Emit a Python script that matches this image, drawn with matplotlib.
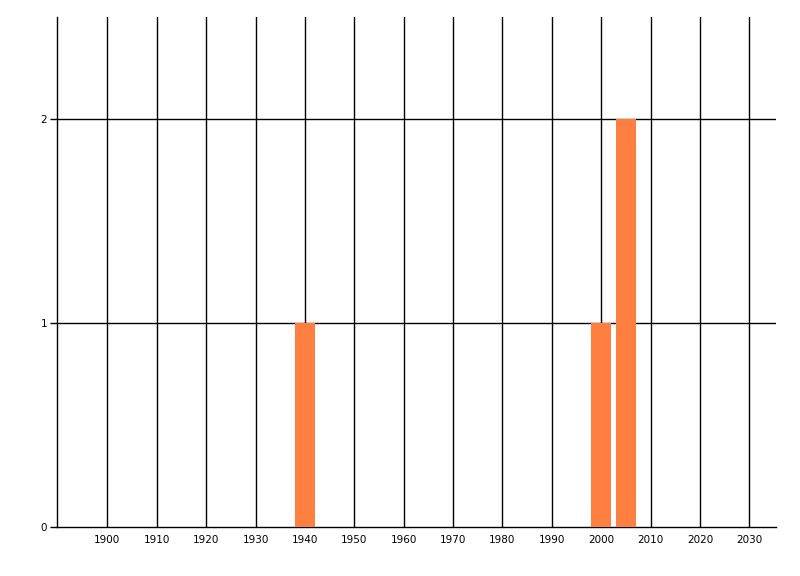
import matplotlib
matplotlib.use('Agg')
import matplotlib.pyplot as plt
import numpy as np

years = [1940, 2000, 2005]
counts = [1, 1, 2]
xticks = list(range(1900, 2031, 10))
yticks = [0, 1, 2]

fig = plt.figure(figsize=(8, 5.76), dpi=100)
ax = fig.add_axes([57 / 800, 1 - 527 / 576, (776 - 57) / 800, (527 - 17) / 576])

ax.bar(years, counts, width=4, color='#ff7f41', linewidth=0,
       antialiased=False, zorder=3)

ax.set_xlim(1889.8, 2035.4)
ax.set_ylim(0, 2.5)
ax.set_xticks(xticks)
ax.set_xticklabels([str(x) for x in xticks])
ax.set_yticks(yticks)

# grid lines sit under the bars
for x in xticks:
    ax.axvline(x, color='black', lw=1, zorder=1)
for y in yticks[1:]:
    ax.axhline(y, color='black', lw=1, zorder=1)

for s in ['top', 'right']:
    ax.spines[s].set_visible(False)
ax.spines['left'].set_linewidth(1)
ax.spines['bottom'].set_linewidth(1)
ax.tick_params(axis='x', length=0, pad=6, labelsize=7.5)
ax.tick_params(axis='y', length=5, width=1, pad=2, labelsize=7.5)

fig.savefig('out.png', dpi=100)
